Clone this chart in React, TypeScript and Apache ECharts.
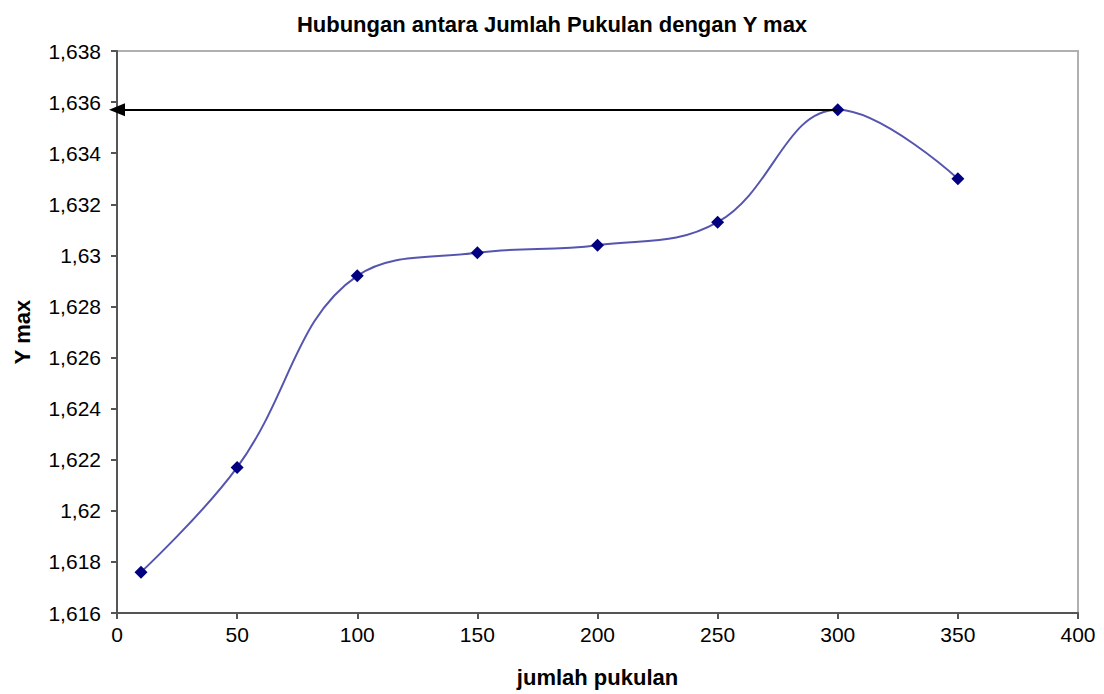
import React, { useEffect, useRef } from "react";
import * as echarts from "echarts";

// Number of blows and the corresponding maximum Y reading
const pukulan: number[] = [10, 50, 100, 150, 200, 250, 300, 350];
const yMax: number[] = [1.6176, 1.6217, 1.6292, 1.6301, 1.6304, 1.6313, 1.6357, 1.633];

// Reference line drawn from the peak back to the Y axis
const peakX = 300;
const peakY = 1.6357;

const titleText = "Hubungan antara Jumlah Pukulan dengan Y max";
const xName = "jumlah pukulan";
const yName = "Y max";

// Decimal comma, trailing zeros dropped (1,63 rather than 1,630)
const fmtY = (v: number): string => {
  const s = v.toFixed(3).replace(/0+$/, "").replace(/\.$/, "");
  return s.replace(".", ",");
};

export default function App() {
  const ref = useRef<HTMLDivElement>(null);

  useEffect(() => {
    if (!ref.current) return;
    const chart = echarts.init(ref.current, undefined, { renderer: "svg" });
    const font = "'Liberation Sans', Arial, sans-serif";
    chart.setOption({
      animation: false,
      backgroundColor: "#ffffff",
      title: {
        text: titleText,
        left: "center",
        top: 8,
        textStyle: { fontFamily: font, fontSize: 22, fontWeight: "bold", color: "#000" },
      },
      grid: {
        left: 117,
        right: 26,
        top: 51,
        bottom: 81,
        show: true,
        borderColor: "#b0b0b0",
        borderWidth: 2,
      },
      xAxis: {
        type: "value",
        min: 0,
        max: 400,
        interval: 50,
        name: xName,
        nameLocation: "middle",
        nameGap: 53,
        nameTextStyle: { fontFamily: font, fontSize: 22, fontWeight: "bold", color: "#000" },
        axisLine: { show: true, onZero: false, lineStyle: { color: "#555", width: 2 } },
        axisTick: { show: true, length: 6, lineStyle: { color: "#555", width: 2 } },
        axisLabel: { fontFamily: font, fontSize: 21, color: "#000", margin: 11 },
        splitLine: { show: false },
      },
      yAxis: {
        type: "value",
        min: 1.616,
        max: 1.638,
        interval: 0.002,
        name: yName,
        nameLocation: "middle",
        nameGap: 84,
        nameRotate: 90,
        nameTextStyle: { fontFamily: font, fontSize: 22, fontWeight: "bold", color: "#000" },
        axisLine: { show: true, onZero: false, lineStyle: { color: "#555", width: 2 } },
        axisTick: { show: true, length: 6, lineStyle: { color: "#555", width: 2 } },
        axisLabel: { fontFamily: font, fontSize: 21, color: "#000", margin: 16, formatter: fmtY },
        splitLine: { show: false },
      },
      series: [
        {
          type: "line",
          data: pukulan.map((x, i) => [x, yMax[i]]),
          smooth: 0.4,
          symbol: "diamond",
          symbolSize: 13,
          lineStyle: { color: "#5555b0", width: 2 },
          itemStyle: { color: "#000080" },
          z: 3,
          markLine: {
            silent: true,
            symbol: ["none", "triangle"],
            symbolSize: [13, 16],
            label: { show: false },
            lineStyle: { color: "#000", width: 2, type: "solid" },
            data: [[{ coord: [peakX, peakY] }, { coord: [0, peakY] }]],
          },
        },
      ],
    });
    return () => chart.dispose();
  }, []);

  return (
    <div
      ref={ref}
      style={{ position: "absolute", left: 0, top: 0, width: 1104, height: 694, background: "#fff" }}
    />
  );
}
